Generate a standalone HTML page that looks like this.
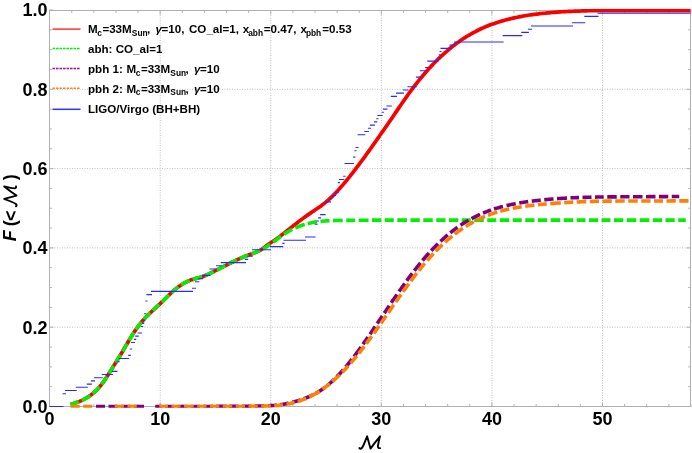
<!DOCTYPE html>
<html><head><meta charset="utf-8"><title>F(&lt;M)</title>
<style>
html,body{margin:0;padding:0;background:#fff;}
body{width:692px;height:453px;overflow:hidden;font-family:"Liberation Sans",sans-serif;}
svg{display:block;will-change:transform;}
text{font-family:"Liberation Sans",sans-serif;font-weight:bold;fill:#000;}
</style></head><body>
<svg width="692" height="453" viewBox="0 0 692 453">
<rect width="692" height="453" fill="#fff"/>
<g stroke="#bebebe" stroke-width="1" stroke-dasharray="1 1.5" fill="none"><line x1="160.18" y1="10.0" x2="160.18" y2="406.5"/><line x1="270.76" y1="10.0" x2="270.76" y2="406.5"/><line x1="381.34" y1="10.0" x2="381.34" y2="406.5"/><line x1="491.92" y1="10.0" x2="491.92" y2="406.5"/><line x1="602.50" y1="10.0" x2="602.50" y2="406.5"/><line x1="49.5" y1="327.20" x2="690.5" y2="327.20"/><line x1="49.5" y1="247.90" x2="690.5" y2="247.90"/><line x1="49.5" y1="168.60" x2="690.5" y2="168.60"/><line x1="49.5" y1="89.30" x2="690.5" y2="89.30"/></g>
<rect x="49.5" y="10.5" width="641.0" height="396.0" fill="none" stroke="#b0b0b0" stroke-width="1"/>
<path d="M49.60,406.5v-4M49.60,10.5v4M71.72,406.5v-2.4M71.72,10.5v2.4M93.83,406.5v-2.4M93.83,10.5v2.4M115.95,406.5v-2.4M115.95,10.5v2.4M138.06,406.5v-2.4M138.06,10.5v2.4M160.18,406.5v-4M160.18,10.5v4M182.30,406.5v-2.4M182.30,10.5v2.4M204.41,406.5v-2.4M204.41,10.5v2.4M226.53,406.5v-2.4M226.53,10.5v2.4M248.64,406.5v-2.4M248.64,10.5v2.4M270.76,406.5v-4M270.76,10.5v4M292.88,406.5v-2.4M292.88,10.5v2.4M314.99,406.5v-2.4M314.99,10.5v2.4M337.11,406.5v-2.4M337.11,10.5v2.4M359.22,406.5v-2.4M359.22,10.5v2.4M381.34,406.5v-4M381.34,10.5v4M403.46,406.5v-2.4M403.46,10.5v2.4M425.57,406.5v-2.4M425.57,10.5v2.4M447.69,406.5v-2.4M447.69,10.5v2.4M469.80,406.5v-2.4M469.80,10.5v2.4M491.92,406.5v-4M491.92,10.5v4M514.04,406.5v-2.4M514.04,10.5v2.4M536.15,406.5v-2.4M536.15,10.5v2.4M558.27,406.5v-2.4M558.27,10.5v2.4M580.38,406.5v-2.4M580.38,10.5v2.4M602.50,406.5v-4M602.50,10.5v4M624.62,406.5v-2.4M624.62,10.5v2.4M646.73,406.5v-2.4M646.73,10.5v2.4M668.85,406.5v-2.4M668.85,10.5v2.4M690.96,406.5v-2.4M690.96,10.5v2.4M49.5,406.50h4M690.5,406.50h-4M49.5,386.68h2.4M690.5,386.68h-2.4M49.5,366.85h2.4M690.5,366.85h-2.4M49.5,347.02h2.4M690.5,347.02h-2.4M49.5,327.20h4M690.5,327.20h-4M49.5,307.38h2.4M690.5,307.38h-2.4M49.5,287.55h2.4M690.5,287.55h-2.4M49.5,267.73h2.4M690.5,267.73h-2.4M49.5,247.90h4M690.5,247.90h-4M49.5,228.07h2.4M690.5,228.07h-2.4M49.5,208.25h2.4M690.5,208.25h-2.4M49.5,188.42h2.4M690.5,188.42h-2.4M49.5,168.60h4M690.5,168.60h-4M49.5,148.77h2.4M690.5,148.77h-2.4M49.5,128.95h2.4M690.5,128.95h-2.4M49.5,109.12h2.4M690.5,109.12h-2.4M49.5,89.30h4M690.5,89.30h-4M49.5,69.47h2.4M690.5,69.47h-2.4M49.5,49.65h2.4M690.5,49.65h-2.4M49.5,29.82h2.4M690.5,29.82h-2.4M49.5,10.00h4M690.5,10.00h-4" stroke="#b0b0b0" stroke-width="1" fill="none"/>
<clipPath id="pc"><rect x="40" y="8.8" width="660" height="398.9"/></clipPath>
<g fill="none" stroke-linejoin="round" clip-path="url(#pc)">
<path d="M70.50,404.42 L72.00,404.00 L73.50,403.55 L75.00,403.07 L76.50,402.55 L78.00,402.00 L79.50,401.40 L81.00,400.76 L82.50,400.06 L84.00,399.31 L85.50,398.49 L87.00,397.61 L88.50,396.67 L90.00,395.65 L91.50,394.55 L93.00,393.37 L94.50,392.09 L96.00,390.70 L97.50,389.20 L99.00,387.58 L100.50,385.82 L102.00,383.91 L103.50,381.85 L105.00,379.66 L106.50,377.36 L108.00,375.00 L109.50,372.59 L111.00,370.18 L112.50,367.78 L114.00,365.39 L115.50,362.99 L117.00,360.59 L118.50,358.16 L120.00,355.71 L121.50,353.23 L123.00,350.70 L124.50,348.13 L126.00,345.55 L127.50,342.97 L129.00,340.42 L130.50,337.92 L132.00,335.49 L133.50,333.15 L135.00,330.89 L136.50,328.71 L138.00,326.62 L139.50,324.62 L141.00,322.72 L142.50,320.92 L144.00,319.22 L145.50,317.61 L147.00,316.06 L148.50,314.58 L150.00,313.14 L151.50,311.73 L153.00,310.34 L154.50,308.95 L156.00,307.57 L157.50,306.19 L159.00,304.79 L160.50,303.38 L162.00,301.94 L163.50,300.46 L165.00,298.96 L166.50,297.45 L168.00,295.95 L169.50,294.47 L171.00,293.04 L172.50,291.67 L174.00,290.35 L175.50,289.09 L177.00,287.90 L178.50,286.76 L180.00,285.69 L181.50,284.69 L183.00,283.75 L184.50,282.88 L186.00,282.08 L187.50,281.35 L189.00,280.70 L190.50,280.12 L192.00,279.61 L193.50,279.16 L195.00,278.75 L196.50,278.36 L198.00,277.98 L199.50,277.58 L201.00,277.14 L202.50,276.66 L204.00,276.11 L205.50,275.50 L207.00,274.84 L208.50,274.15 L210.00,273.43 L211.50,272.70 L213.00,271.95 L214.50,271.20 L216.00,270.44 L217.50,269.67 L219.00,268.90 L220.50,268.13 L222.00,267.36 L223.50,266.58 L225.00,265.81 L226.50,265.04 L228.00,264.27 L229.50,263.52 L231.00,262.76 L232.50,262.02 L234.00,261.29 L235.50,260.57 L237.00,259.86 L238.50,259.17 L240.00,258.49 L241.50,257.83 L243.00,257.20 L244.50,256.58 L246.00,255.98 L247.50,255.41 L249.00,254.85 L250.50,254.31 L252.00,253.76 L253.50,253.19 L255.00,252.61 L256.50,251.99 L258.00,251.33 L259.50,250.61 L261.00,249.80 L262.50,248.82 L264.00,247.65 L265.50,246.44 L267.00,245.28 L268.50,244.23 L270.00,243.23 L271.50,242.26 L273.00,241.30 L274.50,240.31 L276.00,239.30 L277.50,238.23 L279.00,237.12 L280.50,235.98 L282.00,234.80 L283.50,233.62 L285.00,232.43 L286.50,231.25 L288.00,230.06 L289.50,228.86 L291.00,227.67 L292.50,226.47 L294.00,225.28 L295.50,224.10 L297.00,222.93 L298.50,221.77 L300.00,220.62 L301.50,219.48 L303.00,218.37 L304.50,217.27 L306.00,216.19 L307.50,215.14 L309.00,214.11 L310.50,213.10 L312.00,212.09 L313.50,211.09 L315.00,210.08 L316.50,209.06 L318.00,208.03 L319.50,206.97 L321.00,205.89 L322.50,204.77 L324.00,203.61 L325.50,202.40 L327.00,201.15 L328.50,199.83 L330.00,198.46 L331.50,197.05 L333.00,195.58 L334.50,194.06 L336.00,192.50 L337.50,190.90 L339.00,189.26 L340.50,187.58 L342.00,185.87 L343.50,184.12 L345.00,182.34 L346.50,180.53 L348.00,178.69 L349.50,176.83 L351.00,174.95 L352.50,173.04 L354.00,171.11 L355.50,169.16 L357.00,167.19 L358.50,165.20 L360.00,163.19 L361.50,161.17 L363.00,159.13 L364.50,157.07 L366.00,155.00 L367.50,152.92 L369.00,150.83 L370.50,148.73 L372.00,146.61 L373.50,144.49 L375.00,142.37 L376.50,140.23 L378.00,138.09 L379.50,135.95 L381.00,133.80 L382.50,131.66 L384.00,129.51 L385.50,127.36 L387.00,125.20 L388.50,123.04 L390.00,120.87 L391.50,118.69 L393.00,116.51 L394.50,114.31 L396.00,112.09 L397.50,109.88 L399.00,107.66 L400.50,105.45 L402.00,103.26 L403.50,101.09 L405.00,98.94 L406.50,96.83 L408.00,94.74 L409.50,92.68 L411.00,90.64 L412.50,88.64 L414.00,86.66 L415.50,84.72 L417.00,82.80 L418.50,80.92 L420.00,79.06 L421.50,77.24 L423.00,75.45 L424.50,73.69 L426.00,71.96 L427.50,70.27 L429.00,68.60 L430.50,66.97 L432.00,65.37 L433.50,63.80 L435.00,62.26 L436.50,60.75 L438.00,59.27 L439.50,57.82 L441.00,56.40 L442.50,55.02 L444.00,53.66 L445.50,52.33 L447.00,51.03 L448.50,49.75 L450.00,48.51 L451.50,47.30 L453.00,46.11 L454.50,44.95 L456.00,43.82 L457.50,42.71 L459.00,41.64 L460.50,40.59 L462.00,39.56 L463.50,38.57 L465.00,37.60 L466.50,36.66 L468.00,35.74 L469.50,34.85 L471.00,33.98 L472.50,33.13 L474.00,32.31 L475.50,31.52 L477.00,30.74 L478.50,29.98 L480.00,29.25 L481.50,28.54 L483.00,27.86 L484.50,27.19 L486.00,26.55 L487.50,25.94 L489.00,25.34 L490.50,24.76 L492.00,24.21 L493.50,23.67 L495.00,23.16 L496.50,22.66 L498.00,22.19 L499.50,21.73 L501.00,21.28 L502.50,20.85 L504.00,20.43 L505.50,20.03 L507.00,19.63 L508.50,19.25 L510.00,18.88 L511.50,18.52 L513.00,18.17 L514.50,17.84 L516.00,17.52 L517.50,17.20 L519.00,16.90 L520.50,16.60 L522.00,16.32 L523.50,16.04 L525.00,15.77 L526.50,15.52 L528.00,15.27 L529.50,15.04 L531.00,14.82 L532.50,14.61 L534.00,14.41 L535.50,14.22 L537.00,14.04 L538.50,13.86 L540.00,13.69 L541.50,13.53 L543.00,13.37 L544.50,13.22 L546.00,13.07 L547.50,12.93 L549.00,12.79 L550.50,12.66 L552.00,12.53 L553.50,12.40 L555.00,12.29 L556.50,12.17 L558.00,12.06 L559.50,11.96 L561.00,11.86 L562.50,11.77 L564.00,11.68 L565.50,11.60 L567.00,11.52 L568.50,11.45 L570.00,11.38 L571.50,11.31 L573.00,11.25 L574.50,11.19 L576.00,11.13 L577.50,11.08 L579.00,11.03 L580.50,10.98 L582.00,10.93 L583.50,10.89 L585.00,10.84 L586.50,10.80 L588.00,10.76 L589.50,10.73 L591.00,10.69 L592.50,10.66 L594.00,10.63 L595.50,10.61 L597.00,10.59 L598.50,10.58 L600.00,10.57 L601.50,10.57 L603.00,10.56 L604.50,10.56 L606.00,10.56 L607.50,10.56 L609.00,10.56 L610.50,10.56 L612.00,10.56 L613.50,10.56 L615.00,10.56 L616.50,10.56 L618.00,10.56 L619.50,10.57 L621.00,10.57 L622.50,10.57 L624.00,10.57 L625.50,10.58 L627.00,10.58 L628.50,10.58 L630.00,10.59 L631.50,10.59 L633.00,10.60 L634.50,10.60 L636.00,10.60 L637.50,10.61 L639.00,10.61 L640.50,10.61 L642.00,10.61 L643.50,10.62 L645.00,10.62 L646.50,10.62 L648.00,10.62 L649.50,10.62 L651.00,10.62 L652.50,10.62 L654.00,10.63 L655.50,10.63 L657.00,10.63 L658.50,10.63 L660.00,10.62 L661.50,10.62 L663.00,10.62 L664.50,10.62 L666.00,10.62 L667.50,10.62 L669.00,10.62 L670.50,10.61 L672.00,10.61 L673.50,10.61 L675.00,10.61 L676.50,10.61 L678.00,10.60 L679.50,10.60 L681.00,10.60 L682.50,10.60 L684.00,10.59 L685.50,10.59 L687.00,10.59 L688.50,10.59 L690.00,10.59 L690.50,10.59" stroke="#f80000" stroke-width="3.7"/>
<path d="M70.50,404.46 L72.00,403.98 L73.50,403.50 L75.00,403.01 L76.50,402.49 L78.00,401.95 L78.75,401.66M81.75,400.42 L83.25,399.73 L84.75,398.97 L86.25,398.14 L87.75,397.24 L89.25,396.26 L90.25,395.55M92.75,393.60 L94.25,392.29 L95.75,390.88 L97.25,389.36 L98.75,387.72 L99.50,386.86M101.50,384.42 L103.00,382.44 L104.50,380.35 L106.00,378.15 L107.00,376.64M109.00,373.54 L110.50,371.16 L112.00,368.76 L113.50,366.33 L113.75,365.93M115.75,362.66 L117.25,360.19 L118.75,357.70 L120.25,355.19 L120.50,354.77M122.50,351.40 L124.00,348.85 L125.50,346.30 L127.00,343.76M129.00,340.41 L130.50,337.96 L132.00,335.56 L133.50,333.22 L134.00,332.46M136.00,329.50 L137.50,327.36 L139.00,325.32 L140.50,323.37 L141.50,322.13M143.75,319.50 L145.25,317.87 L146.75,316.31 L148.25,314.82 L149.75,313.37 L150.25,312.89M152.75,310.54 L154.25,309.15 L155.75,307.76 L157.25,306.37 L158.75,304.98 L159.25,304.51M161.75,302.14 L163.25,300.69 L164.75,299.22 L166.25,297.74 L167.75,296.26 L169.00,295.04M171.50,292.64 L173.00,291.26 L174.50,289.92 L176.00,288.64 L177.50,287.42 L178.25,286.84M181.00,284.89 L182.50,283.96 L184.00,283.13 L185.50,282.38 L187.00,281.71 L188.50,281.10 L189.75,280.63M192.75,279.57 L194.25,279.06 L195.75,278.57 L197.25,278.08 L198.75,277.60 L200.25,277.11 L201.75,276.62 L202.00,276.53M205.00,275.49 L206.50,274.93 L208.00,274.35 L209.50,273.73 L211.00,273.07 L212.50,272.38 L213.75,271.77M216.75,270.24 L218.25,269.44 L219.75,268.63 L221.25,267.81 L222.75,266.99 L224.25,266.17 L225.25,265.63M228.25,264.05 L229.75,263.29 L231.25,262.54 L232.75,261.81 L234.25,261.10 L235.75,260.40 L236.75,259.94M239.75,258.61 L241.25,257.96 L242.75,257.33 L244.25,256.72 L245.75,256.11 L247.25,255.52 L248.50,255.04M251.50,253.89 L253.00,253.31 L254.50,252.71 L256.00,252.10 L257.50,251.46 L259.00,250.80 L260.00,250.33M263.00,248.82 L264.50,247.98 L266.00,247.08 L267.50,246.12 L269.00,245.12 L270.25,244.25M273.25,242.07 L274.75,240.95 L276.25,239.83 L277.75,238.71 L279.25,237.60 L280.75,236.51 L281.00,236.33M284.00,234.24 L285.50,233.26 L287.00,232.32 L288.50,231.42 L290.00,230.56 L291.50,229.76 L292.25,229.37M295.25,227.93 L296.75,227.28 L298.25,226.66 L299.75,226.09 L301.25,225.55 L302.75,225.04 L304.25,224.58 L304.75,224.43M307.75,223.60 L309.25,223.24 L310.75,222.90 L312.25,222.59 L313.75,222.31 L315.25,222.06 L316.75,221.82 L317.00,221.79M320.50,221.35 L322.00,221.20 L323.50,221.07 L325.00,220.95 L326.50,220.85 L328.00,220.77 L329.50,220.70M333.00,220.59 L334.50,220.55 L336.00,220.52 L337.50,220.49 L339.00,220.47 L340.50,220.45 L342.00,220.44 L342.75,220.43M346.25,220.40 L347.75,220.38 L349.25,220.36 L350.75,220.34 L352.25,220.33 L353.75,220.31 L355.25,220.29M358.75,220.25 L360.25,220.24 L361.75,220.23 L363.25,220.22 L364.75,220.21 L366.25,220.20 L367.75,220.19 L368.50,220.19M372.00,220.17 L373.50,220.17 L375.00,220.16 L376.50,220.15 L378.00,220.15 L379.50,220.14 L381.00,220.14 L381.25,220.13M384.75,220.12 L386.25,220.12 L387.75,220.12 L389.25,220.11 L390.75,220.11 L392.25,220.11 L393.75,220.11M397.25,220.10 L398.75,220.10 L400.25,220.10 L401.75,220.10 L403.25,220.10 L404.75,220.10 L406.25,220.10 L407.00,220.10M410.50,220.10 L412.00,220.10 L413.50,220.10 L415.00,220.10 L416.50,220.10 L418.00,220.10 L419.50,220.10 L419.75,220.10M423.25,220.10 L424.75,220.10 L426.25,220.10 L427.75,220.10 L429.25,220.10 L430.75,220.10 L432.25,220.10 L432.75,220.10M436.25,220.10 L437.75,220.10 L439.25,220.10 L440.75,220.10 L442.25,220.10 L443.75,220.10 L445.25,220.10 L445.50,220.10M449.00,220.10 L450.50,220.10 L452.00,220.10 L453.50,220.10 L455.00,220.10 L456.50,220.10 L458.00,220.10 L458.25,220.10M461.75,220.10 L463.25,220.10 L464.75,220.10 L466.25,220.10 L467.75,220.10 L469.25,220.10 L470.75,220.10M474.25,220.10 L475.75,220.10 L477.25,220.10 L478.75,220.10 L480.25,220.10 L481.75,220.10 L483.25,220.10 L483.75,220.10M487.25,220.10 L488.75,220.10 L490.25,220.10 L491.75,220.10 L493.25,220.10 L494.75,220.10 L496.25,220.10M499.75,220.10 L501.25,220.10 L502.75,220.10 L504.25,220.10 L505.75,220.10 L507.25,220.10 L508.75,220.10 L509.25,220.10M512.75,220.10 L514.25,220.10 L515.75,220.10 L517.25,220.10 L518.75,220.10 L520.25,220.10 L521.75,220.10M525.25,220.10 L526.75,220.10 L528.25,220.10 L529.75,220.10 L531.25,220.10 L532.75,220.10 L534.25,220.10 L534.50,220.10M538.00,220.10 L539.50,220.10 L541.00,220.10 L542.50,220.10 L544.00,220.10 L545.50,220.10 L547.00,220.10 L547.25,220.10M550.75,220.10 L552.25,220.10 L553.75,220.10 L555.25,220.10 L556.75,220.10 L558.25,220.10 L559.75,220.10 L560.25,220.10M563.75,220.10 L565.25,220.10 L566.75,220.10 L568.25,220.10 L569.75,220.10 L571.25,220.10 L572.75,220.10 L573.25,220.10M576.75,220.10 L578.25,220.10 L579.75,220.10 L581.25,220.10 L582.75,220.10 L584.25,220.10 L585.50,220.10M589.00,220.10 L590.50,220.10 L592.00,220.10 L593.50,220.10 L595.00,220.10 L596.50,220.10 L598.00,220.10M601.50,220.10 L603.00,220.10 L604.50,220.10 L606.00,220.10 L607.50,220.10 L609.00,220.10 L610.50,220.10M614.00,220.10 L615.50,220.10 L617.00,220.10 L618.50,220.10 L620.00,220.10 L621.50,220.10 L623.00,220.10 L623.25,220.10M626.75,220.10 L628.25,220.10 L629.75,220.10 L631.25,220.10 L632.75,220.10 L634.25,220.10 L635.75,220.10 L636.25,220.10M639.75,220.10 L641.25,220.10 L642.75,220.10 L644.25,220.10 L645.75,220.10 L647.25,220.10 L648.75,220.10 L649.25,220.10M652.75,220.10 L654.25,220.10 L655.75,220.10 L657.25,220.10 L658.75,220.10 L660.25,220.10 L661.75,220.10 L662.00,220.10M665.50,220.10 L667.00,220.10 L668.50,220.10 L670.00,220.10 L671.50,220.10 L673.00,220.10 L674.50,220.10 L674.75,220.10M678.25,220.10 L679.75,220.10 L681.25,220.10 L682.75,220.10 L684.25,220.10 L685.75,220.10" stroke="#00f000" stroke-width="3.6"/>
<path d="M96.00,406.50 L97.50,406.50 L99.00,406.50 L100.50,406.50 L102.00,406.50 L103.50,406.50 L105.00,406.50M108.50,406.50 L110.00,406.50 L111.50,406.50 L113.00,406.50 L114.50,406.49 L116.00,406.49 L117.50,406.49 L117.75,406.49M121.25,406.49 L122.75,406.49 L124.25,406.49 L125.75,406.49 L127.25,406.49 L128.75,406.49 L130.25,406.49 L130.50,406.49M134.00,406.49 L135.50,406.49 L137.00,406.49 L138.50,406.49 L140.00,406.49 L141.50,406.48 L143.00,406.48 L144.00,406.48M155.25,406.48 L156.75,406.48 L158.25,406.48 L159.75,406.47 L161.25,406.47 L161.75,406.47M165.25,406.47 L166.75,406.47 L168.25,406.47 L169.75,406.47 L171.25,406.47 L172.75,406.47 L174.25,406.46M177.75,406.46 L179.25,406.46 L180.75,406.46 L182.25,406.46 L183.75,406.46 L185.25,406.45 L186.75,406.45 L187.25,406.45M190.75,406.45 L192.25,406.45 L193.75,406.45 L195.25,406.44 L196.75,406.44 L198.25,406.44 L199.75,406.44 L200.00,406.44M203.50,406.44 L205.00,406.43 L206.50,406.43 L208.00,406.43 L209.50,406.43 L211.00,406.43 L212.50,406.42 L212.75,406.42M216.25,406.42 L217.75,406.42 L219.25,406.42 L220.75,406.41 L222.25,406.41 L223.75,406.41 L225.25,406.41 L225.75,406.41M229.25,406.40 L230.75,406.40 L232.25,406.39 L233.75,406.39 L235.25,406.38 L236.75,406.37 L238.25,406.35 L238.50,406.35M242.00,406.31 L243.50,406.30 L245.00,406.28 L246.50,406.26 L248.00,406.23 L249.50,406.21 L251.00,406.19 L251.25,406.19M254.75,406.13 L256.25,406.10 L257.75,406.07 L259.25,406.03 L260.75,406.00 L262.25,405.95 L263.75,405.92 L264.25,405.91M267.75,405.80 L269.25,405.74 L270.75,405.67 L272.25,405.58 L273.75,405.46 L275.25,405.32 L276.75,405.16M280.25,404.71 L281.75,404.49 L283.25,404.24 L284.75,403.97 L286.25,403.67 L287.75,403.36 L288.75,403.14M292.25,402.31 L293.75,401.92 L295.25,401.51 L296.75,401.09 L298.25,400.63 L299.75,400.16 L300.75,399.83M303.75,398.79 L305.25,398.23 L306.75,397.64 L308.25,397.02 L309.75,396.37 L311.25,395.68 L312.75,394.96 L313.00,394.83M316.00,393.25 L317.50,392.39 L319.00,391.49 L320.50,390.53 L322.00,389.53 L323.50,388.47 L324.50,387.73M327.00,385.78 L328.50,384.54 L330.00,383.25 L331.50,381.92 L333.00,380.53 L334.25,379.33M336.75,376.85 L338.25,375.30 L339.75,373.70 L341.25,372.06 L342.75,370.37 L343.25,369.80M345.75,366.88 L347.25,365.08 L348.75,363.24 L350.25,361.37 L351.75,359.46 L352.00,359.14M354.00,356.54 L355.50,354.56 L357.00,352.54 L358.50,350.51 L360.00,348.44 L361.00,347.06M363.00,344.26 L364.50,342.13 L366.00,339.99 L367.50,337.83 L368.00,337.11M370.00,334.20 L371.50,332.01 L373.00,329.81 L374.50,327.60 L375.25,326.49M377.25,323.53 L378.75,321.30 L380.25,319.07 L381.75,316.84 L382.25,316.10M384.25,313.13 L385.75,310.91 L387.25,308.69 L388.75,306.47 L389.25,305.73M391.25,302.79 L392.75,300.59 L394.25,298.40 L395.75,296.22 L397.00,294.42M399.00,291.55 L400.50,289.41 L402.00,287.29 L403.50,285.18 L404.75,283.44M406.75,280.69 L408.25,278.64 L409.75,276.62 L411.25,274.62 L412.25,273.30M414.25,270.70 L415.75,268.78 L417.25,266.88 L418.75,265.02 L420.25,263.18 L420.50,262.88M422.50,260.48 L424.00,258.72 L425.50,256.99 L427.00,255.30 L428.50,253.63 L429.00,253.08M431.25,250.64 L432.75,249.06 L434.25,247.51 L435.75,245.98 L437.25,244.49 L438.00,243.76M440.50,241.36 L442.00,239.97 L443.50,238.60 L445.00,237.27 L446.50,235.96 L447.75,234.90M450.25,232.84 L451.75,231.64 L453.25,230.47 L454.75,229.34 L456.25,228.23 L457.50,227.33M460.50,225.26 L462.00,224.27 L463.50,223.31 L465.00,222.37 L466.50,221.46 L468.00,220.58 L468.50,220.29M471.50,218.63 L473.00,217.83 L474.50,217.06 L476.00,216.31 L477.50,215.59 L479.00,214.89 L480.00,214.43M483.00,213.13 L484.50,212.51 L486.00,211.91 L487.50,211.34 L489.00,210.78 L490.50,210.24 L491.00,210.06M494.00,209.06 L495.50,208.58 L497.00,208.12 L498.50,207.68 L500.00,207.25 L501.50,206.84 L503.00,206.44M506.50,205.58 L508.00,205.23 L509.50,204.90 L511.00,204.57 L512.50,204.26 L514.00,203.97 L515.50,203.68 L515.75,203.63M519.25,203.01 L520.75,202.76 L522.25,202.52 L523.75,202.28 L525.25,202.06 L526.75,201.84 L528.25,201.63M531.75,201.16 L533.25,200.97 L534.75,200.79 L536.25,200.61 L537.75,200.43 L539.25,200.27 L540.75,200.10M544.25,199.74 L545.75,199.60 L547.25,199.46 L548.75,199.32 L550.25,199.19 L551.75,199.07 L553.25,198.95 L553.50,198.93M557.00,198.67 L558.50,198.57 L560.00,198.47 L561.50,198.37 L563.00,198.28 L564.50,198.20 L566.00,198.11 L567.00,198.06M570.50,197.89 L572.00,197.82 L573.50,197.75 L575.00,197.69 L576.50,197.63 L578.00,197.58 L579.00,197.54M582.50,197.43 L584.00,197.38 L585.50,197.34 L587.00,197.29 L588.50,197.25 L590.00,197.21 L591.50,197.17M595.00,197.08 L596.50,197.05 L598.00,197.03 L599.50,197.00 L601.00,196.98 L602.50,196.97 L603.75,196.95M607.25,196.92 L608.75,196.90 L610.25,196.89 L611.75,196.88 L613.25,196.87 L614.75,196.86 L616.25,196.85 L616.75,196.84M620.25,196.82 L621.75,196.81 L623.25,196.81 L624.75,196.80 L626.25,196.79 L627.75,196.78 L629.25,196.77 L629.50,196.77M633.00,196.76 L634.50,196.75 L636.00,196.74 L637.50,196.73 L639.00,196.73 L640.50,196.72 L642.00,196.71 L642.50,196.71M646.00,196.69 L647.50,196.68 L649.00,196.67 L650.50,196.67 L652.00,196.66 L653.50,196.65 L655.00,196.64 L655.50,196.64M659.00,196.62 L660.50,196.61 L662.00,196.60 L663.50,196.60 L665.00,196.59 L666.50,196.58 L668.00,196.57 L668.25,196.57M671.75,196.55 L673.25,196.54 L674.75,196.54 L676.25,196.53 L677.75,196.52 L679.25,196.51" stroke="#7f007f" stroke-width="3.6"/>
<path d="M70.50,406.50 L72.00,406.50 L73.50,406.50 L75.00,406.50 L76.50,406.50 L78.00,406.50 L79.50,406.50 L79.75,406.50M83.25,406.50 L84.75,406.50 L86.25,406.50 L87.75,406.50 L89.25,406.50 L90.75,406.50 L92.25,406.50M114.75,406.50 L116.25,406.50 L117.75,406.50 L119.25,406.50 L120.75,406.50 L122.25,406.50 L123.75,406.50 L124.00,406.50M127.50,406.50 L129.00,406.50 L130.50,406.50 L132.00,406.50 L133.50,406.50 L135.00,406.50 L136.50,406.50 L136.75,406.50M159.25,406.50 L160.75,406.50 L162.25,406.50 L163.75,406.50 L165.25,406.50 L166.75,406.50 L168.00,406.50M171.50,406.50 L173.00,406.50 L174.50,406.50 L176.00,406.50 L177.50,406.50 L179.00,406.50 L180.50,406.50M184.00,406.50 L185.50,406.50 L187.00,406.50 L188.50,406.50 L190.00,406.50 L191.50,406.50 L193.00,406.50 L193.75,406.50M197.25,406.50 L198.75,406.50 L200.25,406.50 L201.75,406.50 L203.25,406.50 L204.75,406.50 L206.25,406.50 L206.50,406.50M210.00,406.50 L211.50,406.50 L213.00,406.50 L214.50,406.50 L216.00,406.50 L217.50,406.50 L219.00,406.50 L219.25,406.50M222.75,406.50 L224.25,406.50 L225.75,406.50 L227.25,406.50 L228.75,406.50 L230.25,406.50 L231.75,406.50 L232.25,406.50M235.75,406.49 L237.25,406.48 L238.75,406.47 L240.25,406.46 L241.75,406.45 L243.25,406.44 L244.75,406.43 L245.00,406.42M248.50,406.39 L250.00,406.37 L251.50,406.36 L253.00,406.34 L254.50,406.32 L256.00,406.30 L257.50,406.28 L257.75,406.27M261.25,406.20 L262.75,406.17 L264.25,406.14 L265.75,406.11 L267.25,406.07 L268.75,406.02 L270.25,405.97 L270.75,405.95M274.25,405.76 L275.75,405.65 L277.25,405.52 L278.75,405.37 L280.25,405.20 L281.75,405.01 L283.00,404.84M286.50,404.26 L288.00,403.97 L289.50,403.66 L291.00,403.32 L292.50,402.96 L294.00,402.57 L294.75,402.36M297.75,401.48 L299.25,400.99 L300.75,400.47 L302.25,399.92 L303.75,399.34 L305.25,398.73 L306.25,398.30M309.25,396.92 L310.75,396.17 L312.25,395.40 L313.75,394.58 L315.25,393.73 L316.75,392.85 L318.25,391.93 L319.50,391.13M322.50,389.12 L324.00,388.06 L325.50,386.97 L327.00,385.84 L328.50,384.67 L329.75,383.67M332.25,381.59 L333.75,380.30 L335.25,378.96 L336.75,377.60 L338.25,376.19 L339.75,374.75M342.25,372.27 L343.75,370.73 L345.25,369.15 L346.75,367.54 L348.25,365.89M350.75,363.06 L352.25,361.32 L353.75,359.54 L355.25,357.74 L356.75,355.90M358.75,353.41 L360.25,351.51 L361.75,349.59 L363.25,347.64 L364.25,346.33M366.25,343.68 L367.75,341.67 L369.25,339.63 L370.75,337.58 L371.75,336.21M373.75,333.44 L375.25,331.34 L376.75,329.24 L378.25,327.12 L379.00,326.06M381.00,323.21 L382.50,321.07 L384.00,318.92 L385.50,316.77 L386.25,315.69M388.25,312.81 L389.75,310.65 L391.25,308.49 L392.75,306.33 L393.75,304.90M395.75,302.03 L397.25,299.89 L398.75,297.75 L400.25,295.62 L401.00,294.56M403.00,291.75 L404.50,289.66 L406.00,287.58 L407.50,285.51 L408.75,283.80M410.75,281.10 L412.25,279.09 L413.75,277.11 L415.25,275.15 L416.75,273.21M418.75,270.67 L420.25,268.79 L421.75,266.95 L423.25,265.13 L424.75,263.35M427.25,260.44 L428.75,258.74 L430.25,257.07 L431.75,255.43 L433.25,253.82 L433.50,253.55M435.75,251.20 L437.25,249.68 L438.75,248.18 L440.25,246.71 L441.75,245.27 L442.50,244.57M445.00,242.27 L446.50,240.93 L448.00,239.61 L449.50,238.33 L451.00,237.08 L452.25,236.07M454.75,234.09 L456.25,232.95 L457.75,231.83 L459.25,230.75 L460.75,229.69 L462.25,228.66 L462.75,228.33M465.75,226.38 L467.25,225.46 L468.75,224.56 L470.25,223.68 L471.75,222.84 L473.25,222.02 L473.75,221.75M476.75,220.21 L478.25,219.47 L479.75,218.76 L481.25,218.08 L482.75,217.41 L484.25,216.77 L485.00,216.46M488.00,215.27 L489.50,214.71 L491.00,214.16 L492.50,213.64 L494.00,213.13 L495.50,212.65 L497.00,212.18 L497.25,212.11M500.25,211.24 L501.75,210.82 L503.25,210.43 L504.75,210.05 L506.25,209.69 L507.75,209.34 L509.25,209.01M512.75,208.28 L514.25,207.99 L515.75,207.72 L517.25,207.45 L518.75,207.20 L520.25,206.96 L521.75,206.72M525.25,206.22 L526.75,206.01 L528.25,205.82 L529.75,205.63 L531.25,205.45 L532.75,205.27 L534.25,205.10 L534.50,205.08M538.00,204.70 L539.50,204.55 L541.00,204.41 L542.50,204.26 L544.00,204.13 L545.50,203.99 L546.75,203.89M550.25,203.60 L551.75,203.48 L553.25,203.37 L554.75,203.26 L556.25,203.16 L557.75,203.05 L559.25,202.95 L560.75,202.86M564.25,202.65 L565.75,202.56 L567.25,202.48 L568.75,202.40 L570.25,202.32 L571.75,202.24 L573.25,202.17M576.75,202.01 L578.25,201.94 L579.75,201.88 L581.25,201.82 L582.75,201.76 L584.25,201.71 L585.75,201.65 L586.25,201.63M589.75,201.51 L591.25,201.45 L592.75,201.40 L594.25,201.36 L595.75,201.32 L597.25,201.28 L598.75,201.25 L599.00,201.24M602.50,201.19 L604.00,201.18 L605.50,201.16 L607.00,201.15 L608.50,201.13 L610.00,201.12 L611.50,201.11 L611.75,201.11M615.25,201.09 L616.75,201.08 L618.25,201.07 L619.75,201.06 L621.25,201.06 L622.75,201.05 L624.25,201.05 L624.75,201.04M628.25,201.03 L629.75,201.03 L631.25,201.02 L632.75,201.02 L634.25,201.01 L635.75,201.01 L637.25,201.01 L637.75,201.00M641.25,200.99 L642.75,200.99 L644.25,200.99 L645.75,200.98 L647.25,200.98 L648.75,200.97 L650.25,200.97 L650.50,200.97M654.00,200.96 L655.50,200.96 L657.00,200.95 L658.50,200.95 L660.00,200.95 L661.50,200.94 L663.00,200.94M666.50,200.93 L668.00,200.93 L669.50,200.93 L671.00,200.92 L672.50,200.92 L674.00,200.92 L675.50,200.91 L675.75,200.91M679.25,200.91 L680.75,200.91 L682.25,200.90 L683.75,200.90 L685.25,200.90 L686.75,200.90 L688.25,200.90 L688.50,200.90" stroke="#ff7f00" stroke-width="3.6"/>
<path d="M49.5,406.50H63.5M62.5,393.71H66.0M65.0,390.51H76.8M75.8,387.31H87.8M86.8,384.12H91.9M90.9,380.92H95.0M94.0,377.72H102.7M101.7,374.52H112.9M111.9,371.33H117.5M116.5,361.73H119.7M118.7,358.54H129.2M128.2,355.34H130.8M129.8,348.94H132.1M131.1,342.55H135.0M134.0,339.35H136.2M135.2,336.15H138.7M137.7,332.96H142.0M141.0,326.56H143.2M142.2,323.36H144.3M143.3,320.17H145.1M144.1,313.77H146.4M145.4,300.98H147.4M146.4,294.58H152.0M151.0,291.39H193.0M192.0,288.19H196.0M195.0,281.79H199.4M198.4,278.60H203.1M202.1,275.40H210.4M209.4,269.00H217.0M216.0,265.81H221.8M220.8,262.61H246.0M245.0,259.41H248.2M247.2,256.21H252.8M251.8,249.82H271.0M270.0,246.62H283.3M282.3,243.42H284.5M283.5,240.23H306.0M305.0,237.03H315.6M314.6,224.24H317.7M316.7,221.04H319.1M318.1,217.84H321.1M320.1,214.65H325.6M324.6,201.85H331.0M330.0,198.66H332.2M331.2,195.46H335.9M334.9,192.26H338.8M337.8,182.67H340.0M339.0,179.47H344.2M343.2,176.27H345.5M344.5,163.48H354.1M353.1,157.09H355.4M354.4,150.69H356.5M355.5,147.50H358.6M357.6,134.71H365.3M364.3,131.51H368.9M367.9,128.31H370.9M369.9,125.11H375.0M374.0,121.92H377.3M376.3,118.72H378.4M377.4,115.52H382.7M381.7,112.32H383.9M382.9,109.12H387.4M386.4,105.93H391.8M390.8,96.33H397.0M396.0,93.14H404.0M403.0,89.94H408.5M407.5,86.74H416.9M415.9,77.15H420.8M419.8,70.75H426.0M425.0,67.56H428.3M427.3,61.16H438.4M437.4,57.96H439.8M438.8,54.77H440.5M439.5,51.57H441.5M440.5,48.37H450.5M449.5,45.17H455.1M454.1,41.98H503.6M502.6,35.58H522.3M521.3,32.38H528.9M527.9,29.19H532.0M531.0,25.99H573.1M572.1,22.79H585.3M584.3,16.40H598.5M597.5,13.20H690.5" stroke="#2a2aff" stroke-width="1.1"/>
</g>
<g font-size="18"><text x="49.6" y="425.1" text-anchor="middle">0</text><text x="160.2" y="425.1" text-anchor="middle">10</text><text x="270.8" y="425.1" text-anchor="middle">20</text><text x="381.3" y="425.1" text-anchor="middle">30</text><text x="491.9" y="425.1" text-anchor="middle">40</text><text x="602.5" y="425.1" text-anchor="middle">50</text><text x="47.6" y="412.9" text-anchor="end">0.0</text><text x="47.6" y="333.6" text-anchor="end">0.2</text><text x="47.6" y="254.3" text-anchor="end">0.4</text><text x="47.6" y="175.1" text-anchor="end">0.6</text><text x="47.6" y="95.7" text-anchor="end">0.8</text><text x="47.6" y="16.4" text-anchor="end">1.0</text></g>
<g transform="translate(16.3,240.7) rotate(-90)" font-size="18">
<text x="-0.5" y="0" font-style="italic">F</text>
<text x="14.5" y="0">(</text>
<text x="19.6" y="0.8">&lt;</text>
<path transform="translate(34.2,-12.6) scale(0.965,1)" d="M0.2,12.3 q1.1,1.3 2.4,-0.1 C4.6,10 6,4.5 7.9,0.5 L11.3,12.8 C14,9 17.5,4.5 20.8,0.5 C19.8,4.5 18.9,8.5 18.7,10.8 q0.4,1.9 2.2,1.5" fill="none" stroke="#000" stroke-width="1.9" stroke-linecap="round" stroke-linejoin="round"/>
<text x="60.4" y="0">)</text>
</g>
<path transform="translate(359.2,435.8)" d="M0.2,12.3 q1.1,1.3 2.4,-0.1 C4.6,10 6,4.5 7.9,0.5 L11.3,12.8 C14,9 17.5,4.5 20.8,0.5 C19.8,4.5 18.9,8.5 18.7,10.8 q0.4,1.9 2.2,1.5" fill="none" stroke="#000" stroke-width="1.9" stroke-linecap="round" stroke-linejoin="round"/>
<g fill="none" stroke-width="1.5">
<path d="M52.5,29.1H80.5" stroke="#ff3030"/>
<path d="M52.5,48.5H80.5" stroke="#00f000" stroke-dasharray="2.6 0.9"/>
<path d="M52.5,68.4H80.5" stroke="#8f1a8f" stroke-dasharray="2.6 0.9"/>
<path d="M52.5,88.3H80.5" stroke="#ff8a1a" stroke-dasharray="2.6 0.9"/>
<path d="M52.5,109.3H80.5" stroke="#3030ff"/>
</g>
<g><text x="88.00" y="33.20" font-size="11.6">M</text><text x="97.20" y="35.50" font-size="8.4">c</text><text x="102.40" y="33.20" font-size="11.6">=33M</text><text x="131.80" y="35.50" font-size="8.4">Sun</text><text x="147.00" y="33.20" font-size="11.6">,</text><text x="155.60" y="33.20" font-size="11.6" font-style="italic">γ</text><text x="161.50" y="33.20" font-size="11.6">=10,</text><text x="189.00" y="33.20" font-size="11.6">CO_al=1,</text><text x="242.70" y="33.20" font-size="11.6">x</text><text x="248.20" y="35.50" font-size="8.4">abh</text><text x="263.80" y="33.20" font-size="11.6">=0.47,</text><text x="300.40" y="33.20" font-size="11.6">x</text><text x="305.90" y="35.50" font-size="8.4">pbh</text><text x="322.30" y="33.20" font-size="11.6">=0.53</text><text x="88.00" y="52.80" font-size="11.6">abh: CO_al=1</text><text x="88.00" y="73.20" font-size="11.6">pbh 1:</text><text x="126.50" y="73.20" font-size="11.6">M</text><text x="135.70" y="75.50" font-size="8.4">c</text><text x="140.90" y="73.20" font-size="11.6">=33M</text><text x="170.30" y="75.50" font-size="8.4">Sun</text><text x="185.50" y="73.20" font-size="11.6">,</text><text x="194.10" y="73.20" font-size="11.6" font-style="italic">γ</text><text x="200.00" y="73.20" font-size="11.6">=10</text><text x="88.00" y="92.80" font-size="11.6">pbh 2:</text><text x="126.50" y="92.80" font-size="11.6">M</text><text x="135.70" y="95.10" font-size="8.4">c</text><text x="140.90" y="92.80" font-size="11.6">=33M</text><text x="170.30" y="95.10" font-size="8.4">Sun</text><text x="185.50" y="92.80" font-size="11.6">,</text><text x="194.10" y="92.80" font-size="11.6" font-style="italic">γ</text><text x="200.00" y="92.80" font-size="11.6">=10</text><text x="88.00" y="113.40" font-size="11.6">LIGO/Virgo (BH+BH)</text></g>
</svg>
</body></html>
